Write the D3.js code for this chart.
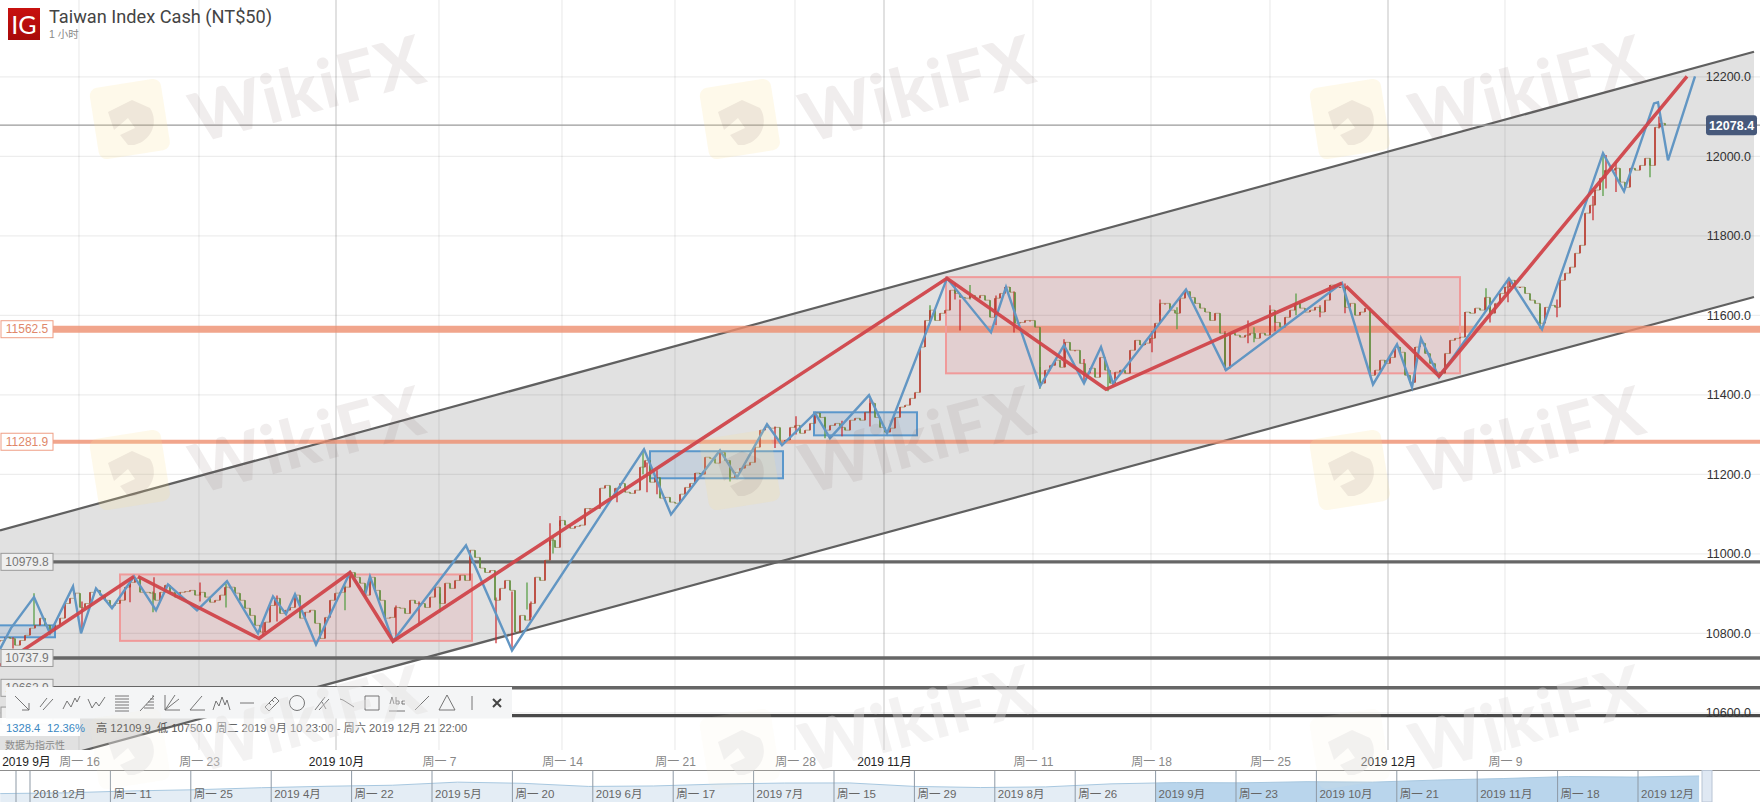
<!DOCTYPE html>
<html><head><meta charset="utf-8">
<style>html,body{margin:0;padding:0;background:#fff;overflow:hidden}svg{display:block}
text{font-family:"Liberation Sans","Noto Sans CJK SC",sans-serif}</style>
<script src="https://cdn.jsdelivr.net/npm/d3@7/dist/d3.min.js"></script></head><body>
<svg id="c" width="1760" height="802"></svg>
<script>
// ---- data (x = hourly bar index across the visible window, y = index points)
const closes=[10782,10790,10787,10770,10782,10795,10813,10820,10838,10820,10808,10820,10838,10875,10888,10901,10865,10875,10903,10908,10896,10883,10870,10875,10883,10916,10928,10938,10903,10903,10901,10883,10903,10921,10903,10891,10903,10905,10908,10896,10903,10891,10878,10883,10896,10916,10916,10901,10883,10863,10845,10820,10803,10828,10870,10888,10850,10858,10865,10896,10838,10853,10858,10825,10787,10840,10883,10901,10903,
10916,10953,10941,10926,10896,10941,10908,10883,10838,10840,10865,10863,10850,10883,10875,10875,10865,10891,10916,10875,10926,10913,10933,10946,10933,11009,10991,10964,10953,10958,10883,10913,10933,10908,10803,10845,10833,10875,10941,10933,10984,11034,11016,11084,11072,11064,11069,11072,11114,11114,11114,11165,11172,11142,11165,11177,11155,11152,11160,11218,11235,11180,11192,11140,11142,11130,11127,
11150,11167,11177,11203,11200,11243,11240,11228,11255,11235,11192,11205,11215,11223,11230,11268,11311,11318,11316,11318,11281,11286,11318,11323,11303,11311,11328,11354,11343,11311,11323,11328,11318,11311,11336,11341,11336,11356,11379,11343,11318,11306,11316,11343,11369,11374,11391,11406,11520,11587,11613,11587,11605,11613,11663,11655,11645,11643,11650,11643,11650,11638,11595,11643,11655,
11671,11658,11580,11582,11587,11587,11570,11429,11462,11474,11487,11469,11532,11512,11512,11479,11454,11467,11444,11494,11462,11429,11457,11462,11454,11512,11537,11525,11530,11542,11580,11630,11630,11613,11605,11643,11660,11645,11630,11618,11608,11587,11605,11555,11467,11555,11550,11545,11550,11555,11542,11555,11550,11613,11582,11570,11595,11613,11630,11618,11608,11613,11620,11608,11638,11676,11671,11671,
11620,11630,11600,11608,11618,11449,11462,11487,11479,11494,11520,11507,11449,11431,11520,11530,11504,11479,11457,11454,11504,11537,11542,11545,11608,11605,11618,11613,11645,11605,11630,11655,11671,11688,11671,11671,11655,11638,11630,11580,11620,11625,11620,11688,11706,11721,11756,11776,11857,11877,11915,11945,11965,11965,11970,11935,11922,11970,11965,11977,11995,11977,12073,12083,12078.4];
const barsPerClose=5;
// wicks: bar, low, high
const wicks=[[13,10762,10790],[34,10820,10901],[82,10810,10880],[130,10878,10930],[153,10853,10905],[154,10885,10941],[200,10880,10928],[226,10865,10925],[263,10795,10830],[277,10830,10895],[345,10858,10920],[396,10782,10870],[419,10820,10880],[440,10853,10900],[496,10775,10890],[512,10762,10905],[527,10860,10928],[531,10840,10880],[550,11020,11077],[553,11001,11040],[560,11070,11095],[617,11130,11165],[643,11200,11260],[647,11155,11230],[657,11150,11210],[730,11182,11235],[775,11266,11320],[796,11300,11346],[825,11291,11345],[842,11296,11335],[870,11320,11391],[930,11580,11625],[955,11640,11681],[960,11562,11640],[970,11640,11676],[996,11575,11650],[1014,11557,11660],[1040,11415,11470],[1064,11470,11540],[1084,11430,11490],[1108,11409,11470],[1152,11507,11560],[1160,11600,11640],[1177,11565,11620],[1225,11462,11560],[1248,11530,11587],[1254,11532,11570],[1270,11560,11625],[1275,11560,11600],[1296,11600,11655],[1320,11595,11625],[1345,11605,11680],[1486,11610,11668],[1490,11582,11625],[1508,11633,11692],[1540,11567,11620],[1557,11595,11640],[1593,11839,11900],[1603,11900,12008],[1606,11919,12003],[1616,11910,11985],[1650,11947,11990],[1659,12070,12100]];
const blueX=[0,11,34,50,73,81,96,112,134,156,168,197,227,258,273,286,295,316,350,365,370,393,466,512,644,671,720,737,767,782,815,830,869,887,947,991,1006,1040,1064,1084,1101,1113,1186,1226,1342,1373,1397,1412,1421,1439,1509,1542,1603,1624,1654,1658,1668,1695];
const blueY=[10760,10813,10891,10800,10918,10800,10913,10863,10943,10858,10923,10858,10931,10800,10893,10848,10898,10772,10953,10896,10943,10780,11021,10757,11263,11099,11260,11192,11326,11273,11354,11291,11399,11303,11693,11557,11671,11421,11525,11429,11520,11429,11665,11462,11681,11426,11527,11419,11542,11444,11693,11565,12008,11912,12133,12136,11990,12201];
const redLegs=[[[0,10719],[134,10943]],[[138,10943],[259,10787],[350,10953],[393,10780],[947,11693],[1106,11414],[1342,11681]],[[1346,11673],[1439,11447],[1687,12201]]];
const pinkBoxes=[[120,472,10781,10948],[946,1460,11454,11696]];
const blueBoxes=[[-2,55,10790,10820],[650,783,11190,11258],[814,917,11298,11356]];
const channelTop=[[0,11059],[1754,12263]];
const channelBottom=[[0,10448],[1754,11646]];
const darkLevels=[10979.8,10737.9,10662.9,10593];
const darkLevelLabels=["10979.8","10737.9","10662.9",""];
const salmonLevels=[[11565,7,"11562.5"],[11281.9,4,"11281.9"]];
const lastPrice=12078.4;
const priceTicks=[10600,10800,11000,11200,11400,11600,11800,12000,12200];
const timeTickBars=[26,79,199,336,439,562,675,795,884,1033,1151,1270,1388,1505];
const timeTickLabels=["2019 9月","周一 16","周一 23","2019 10月","周一 7","周一 14","周一 21","周一 28","2019 11月","周一 11","周一 18","周一 25","2019 12月","周一 9"];
const navLabels=["2018 12月","周一 11","周一 25","2019 4月","周一 22","2019 5月","周一 20","2019 6月","周一 17","2019 7月","周一 15","周一 29","2019 8月","周一 26","2019 9月","周一 23","2019 10月","周一 21","2019 11月","周一 18","2019 12月"];
const navValues=[9700,9780,9990,10120,10340,10500,10610,10950,10820,10480,10530,10740,10850,10860,10480,10360,10430,10760,10900,10870,11000,10950,11180,11340,11560,11500,11620];
const statsText=[["1328.4","#3b88c3"],["12.36%","#3b88c3"],["高 12109.9","#555"],["低 10750.0","#555"],["周二 2019 9月 10 23:00 - 周六 2019 12月 21 22:00","#666"]];
const toolIcons=["M-7-7L7 7M7 0V7H0","M-7 4L0-5M-4 7L6-4","M-9 6L-5-2L-1 4L3-5L5-1L8-7","M-9-4L-5 5L-1-1L2 3L8-6","M-7-7H7M-7-4H7M-7-1H7M-7 2H7M-7 5H7M-7 8H7","M-7 8L7-7M-3 5H7M-1 2H7M1-1H7M3-4H7M5-7H7","M-7-8V7H8M-7 7L7-4M-7 7L3-8","M-7 7L5-7M-7 7H8","M-9 7L-6-2L-3 3L0-6L3 2L5-3L8 7","M-7 0H7","M-7 4L3-6L7-2L-3 8ZM-3 0L-1 2M0-3L2-1","M7.5 0A7.5 7.5 0 1 1-7.5 0A7.5 7.5 0 1 1 7.5 0","M-7 7L3-6M-3 7L7-4M0-1L4 6","M-7-4L-4-3M-4-3L4 2M4 2L7 4","M-7-7H7V7H-7Z","M-8 8H8M-7 1L-5-6L-3 1M-1-6V1H2V-2H-1M8-2H5V1H8","M-7 7L7-7","M0-8L8 7H-8Z","M0-7V7","M-4-4L4 4M4-4L-4 4"];

// ---- scales
const x=d3.scaleLinear().domain([0,1760]).range([0,1760]);
const y=d3.scaleLinear().domain([10600,12200]).range([712.8,76.8]);
const svg=d3.select("#c");
svg.append("defs").append("clipPath").attr("id","plot").append("rect").attr("x",0).attr("y",0).attr("width",1760).attr("height",750);
const lg=d3.select("defs").append("linearGradient").attr("id","ig").attr("x1",0).attr("y1",0).attr("x2",0).attr("y2",1);
lg.append("stop").attr("offset",0).attr("stop-color","#c8110f");lg.append("stop").attr("offset",1).attr("stop-color","#a80a0a");
const plot=svg.append("g").attr("clip-path","url(#plot)");
const line=d3.line().x(d=>x(d[0])).y(d=>y(d[1]));

// channel fill
plot.append("path").attr("fill","#e1e1e1")
  .attr("d",line([...channelTop,...channelBottom.slice().reverse()])+"Z");
// grid
const gridBars=timeTickBars.slice(1);
plot.selectAll(".vg").data(gridBars).join("line").attr("x1",d=>x(d)).attr("x2",d=>x(d)).attr("y1",0).attr("y2",750)
  .attr("stroke",(d,i)=>timeTickLabels[i+1].startsWith("2019")?"rgba(0,0,0,.2)":"rgba(0,0,0,.08)").attr("stroke-width",1.2);
plot.selectAll(".hg").data(priceTicks).join("line").attr("x1",0).attr("x2",1760).attr("y1",d=>y(d)).attr("y2",d=>y(d))
  .attr("stroke","rgba(0,0,0,.07)").attr("stroke-width",1.2);
// channel edges
[channelTop,channelBottom].forEach(s=>plot.append("path").attr("d",line(s)).attr("fill","none").attr("stroke","#606060").attr("stroke-width",2.2));
// levels
plot.append("line").attr("x1",0).attr("x2",1760).attr("y1",y(lastPrice)).attr("y2",y(lastPrice)).attr("stroke","#9a9a9a").attr("stroke-width",1.4);
plot.selectAll(".dl").data(darkLevels).join("line").attr("x1",53).attr("x2",1760).attr("y1",d=>y(d)).attr("y2",d=>y(d))
  .attr("stroke",(d,i)=>i==3?"#4a4a4a":"#666").attr("stroke-width",3.4);
plot.selectAll(".sl").data(salmonLevels).join("line").attr("x1",53).attr("x2",1760).attr("y1",d=>y(d[0])).attr("y2",d=>y(d[0]))
  .attr("stroke","#ee8f6f").attr("stroke-opacity",.8).attr("stroke-width",d=>d[1]);
// boxes
const box=(g,b)=>g.attr("x",x(b[0])).attr("width",x(b[1])-x(b[0])).attr("y",y(b[3])).attr("height",y(b[2])-y(b[3]));
pinkBoxes.forEach(b=>box(plot.append("rect"),b).attr("fill","rgba(232,120,125,.17)").attr("stroke","#f09a9a").attr("stroke-width",2));
blueBoxes.forEach(b=>box(plot.append("rect"),b).attr("fill","rgba(70,130,195,.17)").attr("stroke","#5a97cb").attr("stroke-width",2));
// candles
const UP="#c9252a",DN="#4f9a3c";
const cd=closes.map((c,i)=>({bar:i*barsPerClose,o:i?closes[i-1]:c,c}));
plot.selectAll(".w").data(wicks).join("line").attr("x1",d=>x(d[0])).attr("x2",d=>x(d[0])).attr("y1",d=>y(d[1])).attr("y2",d=>y(d[2]))
  .attr("stroke",(d,i)=>i%3==1?DN:UP).attr("stroke-width",1.2);
plot.selectAll(".c").data(cd).join("line").attr("x1",d=>x(d.bar)).attr("x2",d=>x(d.bar)).attr("y1",d=>y(d.o)).attr("y2",d=>y(d.c)+(d.c===d.o?1:0))
  .attr("stroke",d=>d.c>=d.o?UP:DN).attr("stroke-width",1.6);
plot.append("path").datum(cd).attr("d",d3.line().x(d=>x(d.bar)).y(d=>y(d.c)).curve(d3.curveStepAfter)).attr("fill","none").attr("stroke","#8a6a30").attr("stroke-opacity",.55).attr("stroke-width",.9);
// zigzags
plot.append("path").attr("d",line(blueX.map((b,i)=>[b,blueY[i]]))).attr("fill","none").attr("stroke","#6296c3").attr("stroke-width",2.4).attr("stroke-linejoin","miter");
redLegs.forEach(l=>plot.append("path").attr("d",line(l)).attr("fill","none").attr("stroke","#d0444a").attr("stroke-opacity",.95).attr("stroke-width",3.5));

// price axis
const ya=svg.append("g").attr("transform","translate(1751,0)").call(d3.axisLeft(y).tickValues(priceTicks).tickSize(0).tickFormat(d3.format(".1f")));
ya.select(".domain").remove();
ya.selectAll("text").attr("x",0).attr("font-size",12.5).attr("fill","#333").style("font-family","'Liberation Sans',sans-serif");
// last price tag
svg.append("rect").attr("x",1706).attr("y",y(lastPrice)-10).attr("width",51).attr("height",20).attr("rx",3).attr("fill","#47597b");
svg.append("text").attr("x",1731.5).attr("y",y(lastPrice)+4.5).attr("text-anchor","middle").attr("font-size",12.5).attr("font-weight",700).attr("fill","#fff").text(d3.format(".1f")(lastPrice));
// level labels
const tag=(v,t,stroke,fill,bg)=>{const g=svg.append("g");
 g.append("rect").attr("x",1).attr("y",y(v)-8.5).attr("width",52).attr("height",17).attr("fill",bg).attr("stroke",stroke).attr("stroke-width",1);
 if(t)g.append("text").attr("x",27).attr("y",y(v)+4).attr("text-anchor","middle").attr("font-size",12).attr("fill",fill).text(t);};
salmonLevels.forEach(d=>tag(d[0],d[2],"#ef9f85","#e0876a","#fff"));
darkLevels.forEach((d,i)=>tag(d,darkLevelLabels[i],"#9a9a9a","#777","#efefef"));

// time axis
const xa=svg.append("g").attr("transform","translate(0,753)").call(d3.axisBottom(x).tickValues(timeTickBars).tickSize(0).tickFormat((d,i)=>timeTickLabels[i]));
xa.select(".domain").remove();
xa.selectAll("text").attr("y",4).attr("font-size",12).style("font-family","'Liberation Sans','Noto Sans CJK SC',sans-serif")
  .attr("fill",(d,i)=>timeTickLabels[i].startsWith("2019")?"#222":"#888");

// navigator
const navX=d3.scaleLinear().domain([0,navLabels.length]).range([30,30+80.4*navLabels.length]);
const navY=d3.scaleLinear().domain([9000,12000]).range([800,772.5]);
const navData=navValues.map((v,i)=>[i*(navLabels.length+.13)/(navValues.length-1)-.37,v]);
const navArea=d3.area().x(d=>navX(d[0])).y0(802).y1(d=>navY(d[1]));
const selBar=(1156-30)/80.4;
const navLeft=navData.filter(d=>d[0]<=selBar+.5);
svg.append("defs").append("clipPath").attr("id","navr").append("rect").attr("x",1156).attr("y",770).attr("width",546).attr("height",32);
svg.append("path").attr("d",navArea(navLeft)).attr("fill","#e4edf5");
svg.append("path").attr("d",navArea(navData)).attr("clip-path","url(#navr)").attr("fill","#b9d5ec");
svg.append("path").attr("d",d3.line().x(d=>navX(d[0])).y(d=>navY(d[1]))(navData)).attr("fill","none").attr("stroke","#a8c8e0").attr("stroke-width",1);
svg.append("line").attr("x1",0).attr("x2",1760).attr("y1",770.5).attr("y2",770.5).attr("stroke","#8d8d8d").attr("stroke-width",1);
svg.append("rect").attr("x",1702).attr("y",770.5).attr("width",10).attr("height",31.5).attr("fill","#dfe8f3").attr("stroke","#b8c4d4");
svg.selectAll(".nt").data(d3.range(navLabels.length+1)).join("line").attr("x1",d=>navX(d)).attr("x2",d=>navX(d)).attr("y1",771).attr("y2",802).attr("stroke",d=>d==navLabels.length?"none":"#8d99a5");
svg.append("line").attr("x1",16).attr("x2",16).attr("y1",771).attr("y2",802).attr("stroke","#8d99a5");
svg.selectAll(".nl").data(navLabels).join("text").attr("x",(d,i)=>navX(i)+3).attr("y",798).attr("font-size",11.5).attr("fill","#666").text(d=>d);

// toolbar & stats
svg.append("rect").attr("x",0).attr("y",718).attr("width",80).attr("height",18).attr("fill","#fff").attr("fill-opacity",.95);
const tb=svg.append("g");
tb.append("rect").attr("x",6).attr("y",687).attr("width",506).attr("height",31.5).attr("fill","#f4f5f6");
toolIcons.forEach((p,i)=>tb.append("path").attr("transform",`translate(${22+i*25},703)`).attr("d",p).attr("fill","none").attr("stroke",i==19?"#444":"#666").attr("stroke-width",i==19?2:.9));
const statX=[6,47,96,157,216];
statsText.forEach((s,i)=>svg.append("text").attr("x",statX[i]).attr("y",732).attr("font-size",11.2).attr("fill",s[1]).text(s[0]));
svg.append("text").attr("x",5).attr("y",749).attr("font-size",10).attr("fill","#8a8a8a").text("数据为指示性");

// header
svg.append("rect").attr("x",8).attr("y",8).attr("width",32).attr("height",32).attr("fill","url(#ig)");
svg.append("text").attr("x",24).attr("y",34).attr("text-anchor","middle").attr("font-size",25).attr("fill","#fff").style("font-family","Lato,sans-serif").text("IG");
svg.append("text").attr("x",49).attr("y",23).attr("font-size",18.2).attr("fill","#444").style("font-family","Roboto,sans-serif").text("Taiwan Index Cash (NT$50)");
svg.append("text").attr("x",49).attr("y",38).attr("font-size",10.5).attr("fill","#888").text("1 小时");

// watermark
const wmCols=[0,610,1220], wmRows=[0,351];
wmRows.forEach(r=>wmCols.forEach(c=>mark(c,r,"rgba(120,95,90,.11)","rgba(250,225,150,.2)")));
wmCols.forEach(c=>mark(c,630,"rgba(225,222,222,.4)","rgba(250,240,210,.1)"));
function mark(dx,dy,ink,pad){
 const g=svg.append("g").attr("transform",`translate(${dx},${dy})`);
 g.append("rect").attr("x",94).attr("y",83).attr("width",72).attr("height",72).attr("rx",8).attr("fill",pad).attr("transform","rotate(-9 130 120)");
 g.append("path").attr("d","M108 112L132 100L150 108A24 24 0 0 1 128 145L120 135L135 128L128 118L114 130Z").attr("fill",ink);
 g.append("text").attr("x",308).attr("y",113).attr("text-anchor","middle").attr("font-size",68).attr("font-weight",900).attr("letter-spacing",2).attr("fill",ink)
  .attr("transform","rotate(-15 308 90)").style("font-family","Lato,sans-serif").text("WikiFX");
}
</script></body></html>
